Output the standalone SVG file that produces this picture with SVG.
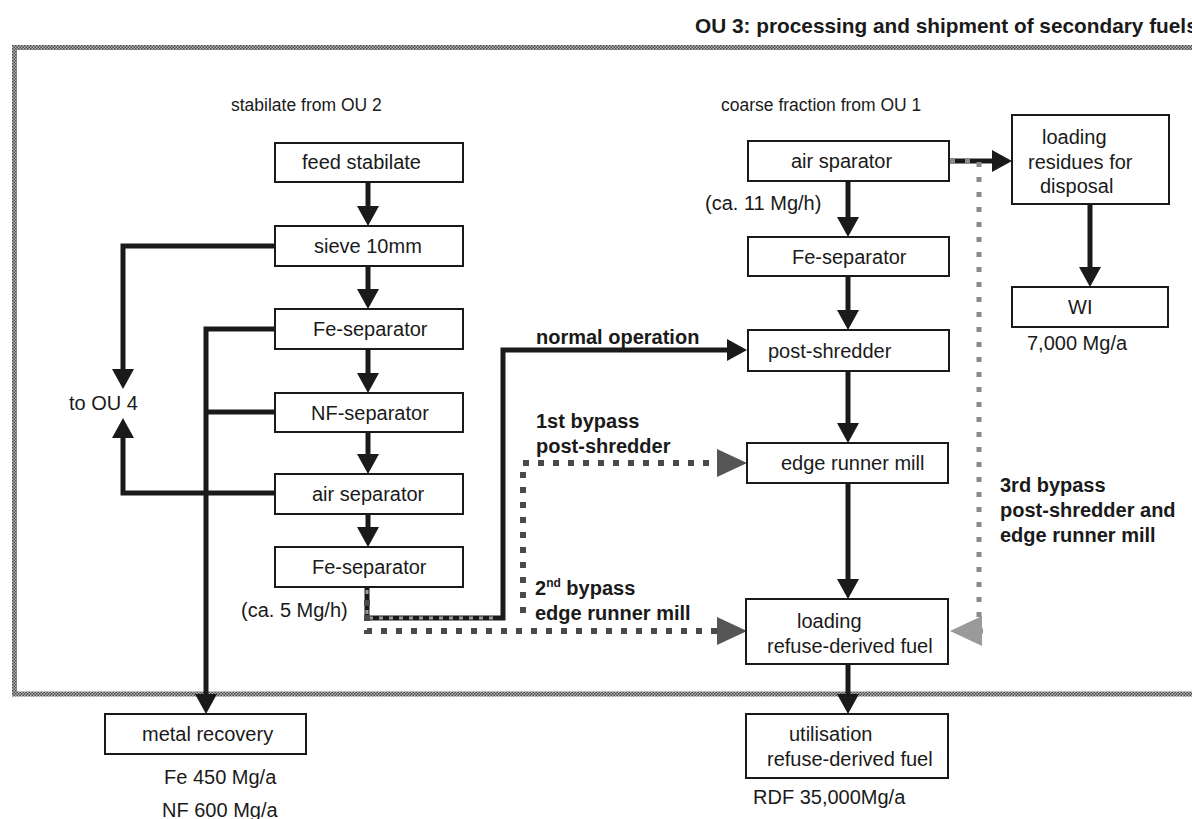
<svg xmlns="http://www.w3.org/2000/svg" width="1192" height="819" viewBox="0 0 1192 819">
<defs>
<style>
text{font-family:"Liberation Sans",Arial,sans-serif;font-size:20px;fill:#1a1a1a}
.b{font-weight:bold}
.hd{font-size:20.8px}
.sm{font-size:17.5px}
.sup{font-size:12px}
.box{fill:#fff;stroke:#1a1a1a;stroke-width:2}
.ln{fill:none;stroke:#1a1a1a;stroke-width:5}
.dd{fill:none;stroke:#4a4a4a;stroke-width:6;stroke-dasharray:6 9}
.dl{fill:none;stroke:#8a8a8a;stroke-width:5;stroke-dasharray:5 10}
.ov{fill:none;stroke:#9a9a9a;stroke-width:3;stroke-dasharray:4 6}
</style>
<pattern id="hatch" width="3" height="3" patternUnits="userSpaceOnUse">
<rect width="3" height="3" fill="#b8b8b8"/>
<rect width="1.5" height="1.5" fill="#484848"/>
<rect x="1.5" y="1.5" width="1.5" height="1.5" fill="#484848"/>
</pattern>
<marker id="ah" markerUnits="userSpaceOnUse" markerWidth="20" markerHeight="22" refX="0" refY="11" orient="auto" overflow="visible"><path d="M0,0 L20,11 L0,22 z" fill="#1a1a1a"/></marker>
<marker id="ahd" markerUnits="userSpaceOnUse" markerWidth="30" markerHeight="28" refX="0" refY="14" orient="auto" overflow="visible"><path d="M0,0 L30,14 L0,28 z" fill="#555"/></marker>
<marker id="ahl" markerUnits="userSpaceOnUse" markerWidth="32" markerHeight="30" refX="0" refY="15" orient="auto" overflow="visible"><path d="M0,0 L32,15 L0,30 z" fill="#9a9a9a"/></marker>
</defs>
<rect width="1192" height="819" fill="#fff"/>

<g id="frame">
<rect x="14.5" y="47.5" width="1200" height="646.5" fill="none" stroke="url(#hatch)" stroke-width="5"/>
<text class="b hd" x="695" y="33">OU 3: processing and shipment of secondary fuels</text>
<text class="sm" x="231" y="111">stabilate from OU 2</text>
<text class="sm" x="721" y="111">coarse fraction from OU 1</text>
</g>

<g id="connectors">
<path class="ln" d="M368,182 V206" marker-end="url(#ah)"/>
<path class="ln" d="M368,266 V289" marker-end="url(#ah)"/>
<path class="ln" d="M368,349 V373" marker-end="url(#ah)"/>
<path class="ln" d="M368,432 V454" marker-end="url(#ah)"/>
<path class="ln" d="M368,514 V527" marker-end="url(#ah)"/>
<path class="ln" d="M275,246 H123 V369" marker-end="url(#ah)"/>
<path class="ln" d="M275,493 H123 V438" marker-end="url(#ah)"/>
<path class="ln" d="M275,329 H206 V694" marker-end="url(#ah)"/>
<path class="ln" d="M275,412 H206"/>
<path class="ln" d="M848,181 V217" marker-end="url(#ah)"/>
<path class="ln" d="M848,276 V310" marker-end="url(#ah)"/>
<path class="ln" d="M848,371 V423" marker-end="url(#ah)"/>
<path class="ln" d="M848,483 V579" marker-end="url(#ah)"/>
<path class="ln" d="M848,664 V694" marker-end="url(#ah)"/>
<path class="ln" d="M1090,204 V267" marker-end="url(#ah)"/>
<path class="ln" d="M949,161 H992" marker-end="url(#ah)"/>
<path class="ln" d="M367,587 V618 H503 V350 H727" marker-end="url(#ah)"/>
<path class="ov" d="M367,590 V618 H498"/>
<path class="dd" d="M367,600 V631 H717" marker-end="url(#ahd)"/>
<path class="dd" d="M523,613 V463 H717" marker-end="url(#ahd)"/>
<path class="dl" d="M950,161 H979 V622"/>
<path class="dl" d="M983,631 H982" marker-end="url(#ahl)"/>
</g>

<g id="feed-stabilate"><rect class="box" x="275" y="143" width="188" height="39"/><text x="302" y="169">feed stabilate</text></g>
<g id="sieve"><rect class="box" x="275" y="226" width="188" height="40"/><text x="314" y="253">sieve 10mm</text></g>
<g id="fe-sep-1"><rect class="box" x="275" y="309" width="188" height="40"/><text x="313" y="336">Fe-separator</text></g>
<g id="nf-sep"><rect class="box" x="275" y="393" width="188" height="39"/><text x="311" y="420">NF-separator</text></g>
<g id="air-sep-1"><rect class="box" x="275" y="474" width="188" height="40"/><text x="312" y="501">air separator</text></g>
<g id="fe-sep-2"><rect class="box" x="275" y="547" width="188" height="40"/><text x="312" y="574">Fe-separator</text></g>
<g id="to-ou4"><text x="69" y="410">to OU 4</text></g>
<g id="flow-5"><text x="241" y="617">(ca. 5 Mg/h)</text></g>
<g id="metal-recovery"><rect class="box" x="105" y="714" width="201" height="40"/><text x="142" y="741">metal recovery</text>
<text x="164" y="784">Fe 450 Mg/a</text><text x="162" y="817">NF 600 Mg/a</text></g>

<g id="air-sparator"><rect class="box" x="748" y="141" width="201" height="40"/><text x="791" y="168">air sparator</text></g>
<g id="flow-11"><text x="705" y="210">(ca. 11 Mg/h)</text></g>
<g id="fe-sep-3"><rect class="box" x="748" y="237" width="201" height="39"/><text x="792" y="264">Fe-separator</text></g>
<g id="post-shredder"><rect class="box" x="748" y="330" width="201" height="41"/><text x="768" y="358">post-shredder</text></g>
<g id="edge-runner-mill"><rect class="box" x="747" y="443" width="201" height="40"/><text x="781" y="470">edge runner mill</text></g>
<g id="loading-rdf"><rect class="box" x="746" y="599" width="202" height="65"/><text x="797" y="628">loading</text><text x="767" y="653">refuse-derived fuel</text></g>
<g id="utilisation-rdf"><rect class="box" x="746" y="714" width="202" height="64"/><text x="789" y="741">utilisation</text><text x="767" y="766">refuse-derived fuel</text>
<text x="753" y="804">RDF 35,000Mg/a</text></g>

<g id="loading-residues"><rect class="box" x="1012" y="115" width="157" height="89"/><text x="1042" y="144">loading</text><text x="1028" y="169">residues for</text><text x="1040" y="193">disposal</text></g>
<g id="wi"><rect class="box" x="1012" y="287" width="156" height="40"/><text x="1068" y="314">WI</text><text x="1027" y="350">7,000 Mg/a</text></g>

<g id="labels">
<text class="b" x="536" y="344">normal operation</text>
<text class="b" x="536" y="428">1st bypass</text>
<text class="b" x="536" y="453">post-shredder</text>
<text class="b" x="535" y="595">2<tspan class="sup" dy="-8">nd</tspan><tspan dy="8"> bypass</tspan></text>
<text class="b" x="535" y="620">edge runner mill</text>
<text class="b" x="1000" y="492">3rd bypass</text>
<text class="b" x="1000" y="517">post-shredder and</text>
<text class="b" x="1000" y="542">edge runner mill</text>
</g>
</svg>
